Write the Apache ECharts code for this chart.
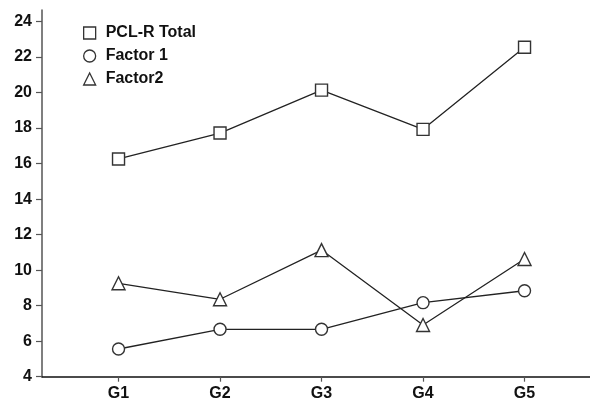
<!DOCTYPE html>
<html><head><meta charset="utf-8">
<script src="https://cdn.jsdelivr.net/npm/echarts@6/dist/echarts.min.js"></script>
<style>html,body{margin:0;padding:0;background:#fff}#c{width:590px;height:403px}</style>
</head><body><div id="c"></div>
<script>
const categories = ['G1', 'G2', 'G3', 'G4', 'G5'];
const seriesNames = ['PCL-R Total', 'Factor 1', 'Factor2'];
const pclTotal = [16.26, 17.72, 20.14, 17.93, 22.55];
const factor1 = [5.56, 6.67, 6.67, 8.17, 8.84];
const factor2 = [9.26, 8.36, 11.13, 6.91, 10.63];
const yTicks = [4, 6, 8, 10, 12, 14, 16, 18, 20, 22, 24];

const xPos = categories.map((c, i) => i + 1);
const font = '"Liberation Sans", Arial, sans-serif';
function mk(name, vals, symbol, size) {
  return {
    name, type: 'line', data: vals.map((v, i) => [xPos[i], v]),
    symbol, symbolSize: size,
    lineStyle: { color: '#222', width: 1.3 },
    itemStyle: { color: '#fff', borderColor: '#333', borderWidth: 1.4 },
    emphasis: { disabled: true }, z: 3
  };
}
const chart = echarts.init(document.getElementById('c'));
chart.setOption({
  animation: false,
  grid: { left: 42, right: 0, top: 10, bottom: 26.3 },
  legend: {
    orient: 'vertical', left: 78, top: 20, itemWidth: 12, itemHeight: 12, itemGap: 7,
    data: [
      { name: seriesNames[0], icon: 'rect' },
      { name: seriesNames[1], icon: 'circle' },
      { name: seriesNames[2], icon: 'triangle' }
    ],
    textStyle: { fontFamily: font, fontSize: 16, fontWeight: 'bold', color: '#111', lineHeight: 16, padding: [0, 0, 0, 5] },
    itemStyle: { color: '#fff', borderColor: '#333', borderWidth: 1.3 }
  },
  xAxis: {
    type: 'value', min: 0.246, max: 5.645,
    splitLine: { show: false },
    axisLine: { show: true, lineStyle: { color: '#111', width: 1.5 } },
    axisTick: { show: true, length: 5, customValues: xPos, lineStyle: { color: '#555', width: 1.2 } },
    axisLabel: {
      customValues: xPos, margin: 9, fontFamily: font, fontSize: 16, fontWeight: 'bold', color: '#111',
      formatter: v => categories[Math.round(v) - 1] || ''
    }
  },
  yAxis: {
    type: 'value', min: 4, max: 24.65,
    splitLine: { show: false },
    axisLine: { show: true, lineStyle: { color: '#555', width: 1.5 } },
    axisTick: { show: true, length: 6, customValues: yTicks, lineStyle: { color: '#555', width: 1.2 } },
    axisLabel: { customValues: yTicks, margin: 10, fontFamily: font, fontSize: 16, fontWeight: 'bold', color: '#111' }
  },
  series: [
    mk(seriesNames[0], pclTotal, 'rect', 12),
    mk(seriesNames[1], factor1, 'circle', 12),
    mk(seriesNames[2], factor2, 'triangle', 13)
  ]
});
</script></body></html>
